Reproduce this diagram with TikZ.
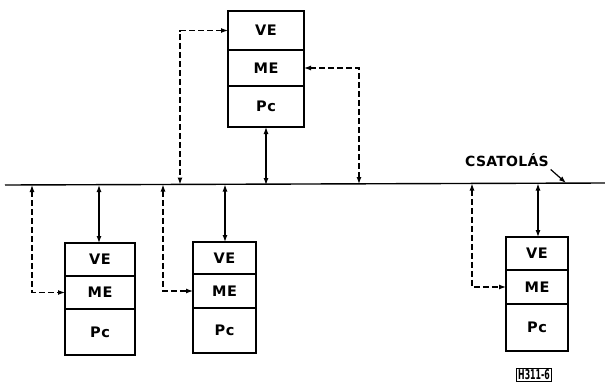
\documentclass[tikz,border=0pt]{standalone}
\usepackage{fontspec}
\setmainfont{DejaVu Sans}
\usetikzlibrary{arrows.meta}
\begin{document}
\begin{tikzpicture}[x=1pt,y=-1pt,
  line width=1pt,
  cellfont/.style={font=\fontsize{14.5}{14.5}\selectfont\bfseries\addfontfeature{LetterSpace=4}},
  cell/.style={draw, line width=1.5pt, inner sep=0pt, outer sep=0pt, anchor=north west, cellfont},
  cellb/.style={draw, line width=1.5pt, inner sep=0pt, outer sep=0pt, anchor=north, cellfont},
  dashline/.style={dash pattern=on 6pt off 3pt, line width=1.2pt},
  tips/.style={{Latex[length=7pt,width=5pt]}-{Latex[length=7pt,width=5pt]}},
  link/.style={line width=1.2pt}
]
\useasboundingbox (0,0) rectangle (605,391);

% top unit
\node[cell, minimum width=76pt, minimum height=39pt] (t1) at (228,11) {VE};
\node[cellb, minimum width=76pt, minimum height=36pt] (t2) at (t1.south) {ME};
\node[cellb, minimum width=76pt, minimum height=41pt] (t3) at (t2.south) {Pc};

% bottom units
\node[cell, minimum width=70pt, minimum height=33pt] (a1) at (65,243) {VE};
\node[cellb, minimum width=70pt, minimum height=33pt] (a2) at (a1.south) {ME};
\node[cellb, minimum width=70pt, minimum height=46pt] (a3) at (a2.south) {Pc};

\node[cell, minimum width=63pt, minimum height=32pt] (b1) at (193,242) {VE};
\node[cellb, minimum width=63pt, minimum height=34pt] (b2) at (b1.south) {ME};
\node[cellb, minimum width=63pt, minimum height=45pt] (b3) at (b2.south) {Pc};

\node[cell, minimum width=62pt, minimum height=33pt] (c1) at (506,237) {VE};
\node[cellb, minimum width=62pt, minimum height=34pt] (c2) at (c1.south) {ME};
\node[cellb, minimum width=62pt, minimum height=47pt] (c3) at (c2.south) {Pc};

% bus
\coordinate (busL) at (5,185);
\coordinate (busR) at (605,183);
\draw[line width=1.4pt] (busL) -- (busR);

% bus tap points
\coordinate (p1) at (32,185);
\coordinate (p2) at (163,184.5);
\coordinate (p3) at (180,184.5);
\coordinate (p4) at (359,184);
\coordinate (p5) at (472,183.5);

% top unit links
\draw[dashline, tips] (t1.west) -| (p3);
\draw[dashline, tips] (t2.east) -| (p4);
\draw[link, tips] (t3.south) -- (t3.south |- busL);

% bottom unit links
\draw[link, tips] (a1.north -| 99,0) -- (99,185);
\draw[dashline, tips] (p1) |- (a2.west);
\draw[link, tips] (b1.north -| 225,0) -- (225,184.5);
\draw[dashline, tips] (p2) |- (b2.west);
\draw[link, tips] (c1.north -| 538,0) -- (538,183.5);
\draw[dashline, tips] (p5) |- (c2.west);

% label
\node[font=\fontsize{14}{14}\selectfont\bfseries\addfontfeature{LetterSpace=2}] (lab) at (507,160) {CSATOLÁS};
\coordinate (labtip) at (566,183);
\draw[line width=1.2pt, -{Latex[length=7pt,width=5pt]}] (lab.south east) ++(-2,-1) -- (labtip);

% figure id
\node[draw, line width=1.4pt, inner sep=1.5pt, font=\fontsize{13.5}{13.5}\selectfont\bfseries] (fid) at (534,375) {\scalebox{0.58}[1]{H311-6}};
\end{tikzpicture}
\end{document}
